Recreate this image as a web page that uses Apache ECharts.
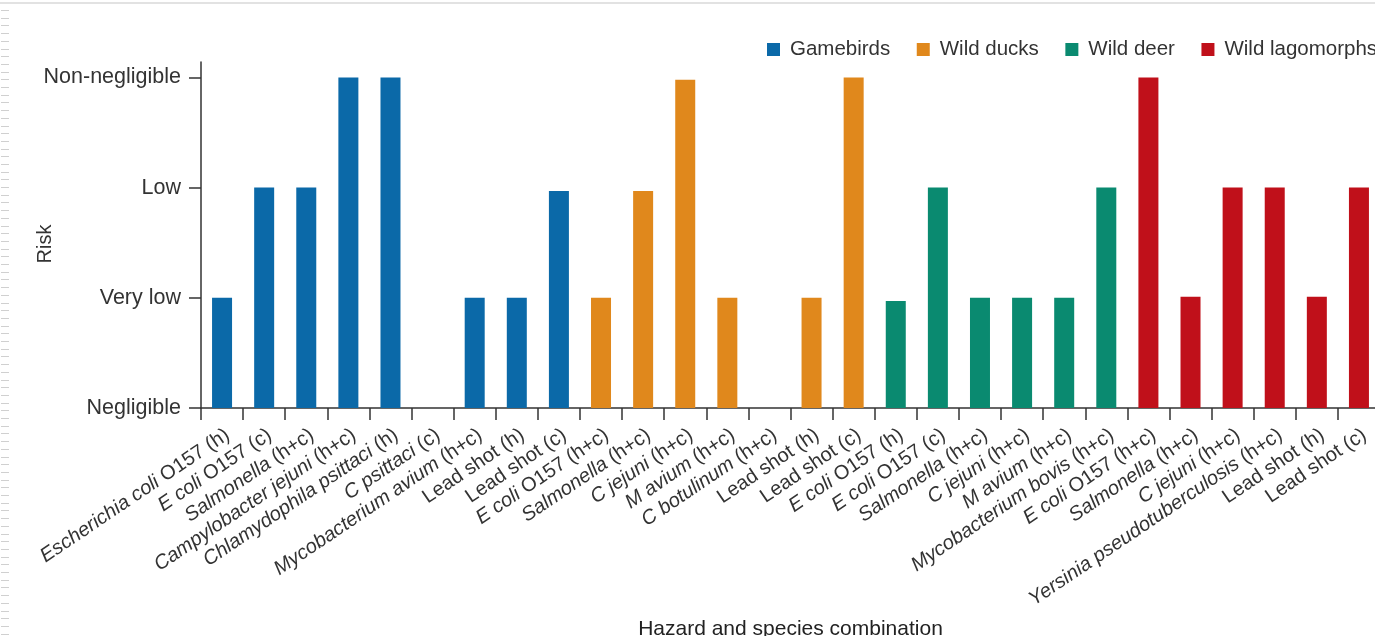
<!DOCTYPE html>
<html>
<head>
<meta charset="utf-8">
<script src="https://cdn.jsdelivr.net/npm/echarts@6/dist/echarts.min.js"></script>
<style>
html,body{margin:0;padding:0;background:#fff;}
#chart{width:1375px;height:636px;}
</style>
</head>
<body>
<div id="chart"></div>
<script>
// ---- data ----
const seriesNames = ['Gamebirds', 'Wild ducks', 'Wild deer', 'Wild lagomorphs'];
const gamebirdsLabels = ['Escherichia coli O157 (h)', 'E coli O157 (c)', 'Salmonella (h+c)', 'Campylobacter jejuni (h+c)', 'Chlamydophila psittaci (h)', 'C psittaci (c)', 'Mycobacterium avium (h+c)', 'Lead shot (h)', 'Lead shot (c)'];
const gamebirdsRisk = [1, 2, 2, 3, 3, 0, 1, 1, 1.97];
const ducksLabels = ['E coli O157 (h+c)', 'Salmonella (h+c)', 'C jejuni (h+c)', 'M avium (h+c)', 'C botulinum (h+c)', 'Lead shot (h)', 'Lead shot (c)'];
const ducksRisk = [1, 1.97, 2.98, 1, 0, 1, 3];
const deerLabels = ['E coli O157 (h)', 'E coli O157 (c)', 'Salmonella (h+c)', 'C jejuni (h+c)', 'M avium (h+c)', 'Mycobacterium bovis (h+c)'];
const deerRisk = [0.97, 2, 1, 1, 1, 2];
const lagomorphsLabels = ['E coli O157 (h+c)', 'Salmonella (h+c)', 'C jejuni (h+c)', 'Yersinia pseudotuberculosis (h+c)', 'Lead shot (h)', 'Lead shot (c)'];
const lagomorphsRisk = [3, 1.01, 2, 2, 1.01, 2];
const riskTickLabels = ['Negligible', 'Very low', 'Low', 'Non-negligible'];
const colors = ['#0b69a8', '#e0881c', '#0a8a70', '#c0101a'];

// ---- build ----
const FONT = '"Liberation Sans", Arial, sans-serif';
const groups = [
  [gamebirdsLabels, gamebirdsRisk],
  [ducksLabels, ducksRisk],
  [deerLabels, deerRisk],
  [lagomorphsLabels, lagomorphsRisk]
];
const allLabels = [];
groups.forEach(g => g[0].forEach(l => allLabels.push(l)));
const catKeys = allLabels.map((_, i) => String(i));
const series = groups.map((g, gi) => {
  const data = catKeys.map(() => '-');
  let offset = 0;
  for (let k = 0; k < gi; k++) offset += groups[k][0].length;
  g[1].forEach((v, j) => { data[offset + j] = v; });
  return {
    name: seriesNames[gi],
    type: 'bar',
    stack: 'all',
    barWidth: 20,
    itemStyle: { color: colors[gi] },
    data: data
  };
});

function richLabel(text) {
  if (text.indexOf('Lead shot') === 0) return '{n|' + text + '}';
  let idx = text.indexOf(' O157');
  if (idx < 0) idx = text.indexOf(' (');
  return '{i|' + text.slice(0, idx) + '}{n|' + text.slice(idx) + '}';
}

const graphics = [];
graphics.push({ type: 'rect', shape: { x: 0, y: 2, width: 1375, height: 2 }, style: { fill: '#e2e2e2' }, silent: true });
for (let y = 10; y < 636; y += 7.7) {
  graphics.push({ type: 'rect', shape: { x: 1, y: Math.round(y), width: 8, height: 1 }, style: { fill: '#d0d0d0' }, silent: true });
}
graphics.push({ type: 'text', x: 45, y: 244, rotation: Math.PI / 2,
  style: { text: 'Risk', fill: '#333', font: '20px ' + FONT, align: 'center', verticalAlign: 'middle' } });

const chart = echarts.init(document.getElementById('chart'), null, { renderer: 'canvas' });
chart.setOption({
  animation: false,
  backgroundColor: '#fff',
  textStyle: { fontFamily: FONT },
  graphic: graphics,
  legend: {
    left: 767, top: 39, width: 1200, padding: 0,
    orient: 'horizontal',
    itemWidth: 13, itemHeight: 13, itemGap: 26.5,
    icon: 'rect',
    textStyle: { fontSize: 20.5, color: '#333', fontFamily: FONT, padding: [0, 0, 0, 5] },
    data: seriesNames
  },
  grid: { left: 201, right: -5, top: 62, bottom: 228, outerBoundsMode: 'none', containLabel: false },
  xAxis: {
    type: 'category',
    data: catKeys,
    name: 'Hazard and species combination',
    nameLocation: 'middle',
    nameGap: 211,
    nameTextStyle: { fontSize: 21, color: '#222' },
    axisLine: { lineStyle: { color: '#333', width: 1.5 } },
    axisTick: { show: true, interval: 0, length: 12, lineStyle: { color: '#333', width: 1.5 } },
    axisLabel: {
      interval: 0, rotate: 34, margin: 17,
      verticalAlign: 'top',
      formatter: (v) => richLabel(allLabels[+v]),
      rich: {
        i: { fontSize: 20, color: '#333', fontStyle: 'italic', fontFamily: FONT },
        n: { fontSize: 20, color: '#333', fontFamily: FONT }
      }
    }
  },
  yAxis: {
    type: 'value',
    min: 0, max: 3.14,
    axisLine: { show: true, lineStyle: { color: '#333', width: 1.5 } },
    axisTick: { show: true, length: 12, customValues: [0, 1, 2, 3], lineStyle: { color: '#333', width: 1.5 } },
    axisLabel: {
      customValues: [0, 1, 2, 3],
      margin: 20, fontSize: 21.5, color: '#333',
      formatter: (v) => riskTickLabels[Math.round(v)] || ''
    },
    splitLine: { show: false }
  },
  series: series
});
</script>
</body>
</html>
